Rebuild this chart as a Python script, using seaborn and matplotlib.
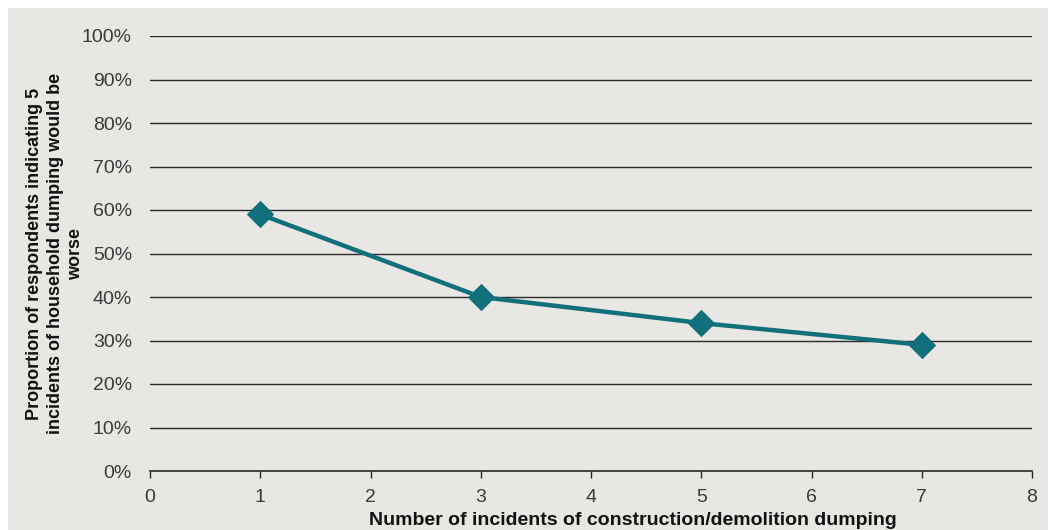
import matplotlib
matplotlib.use("Agg")
import matplotlib.pyplot as plt
from matplotlib.patches import Rectangle
from matplotlib.ticker import PercentFormatter
import seaborn as sns
import pandas as pd

# Survey results: share of respondents rating 5 household dumping incidents as worse
incidents = [1, 3, 5, 7]
share_worse = [0.59, 0.40, 0.34, 0.29]

x_ticks = [0, 1, 2, 3, 4, 5, 6, 7, 8]
y_ticks = [0.0, 0.1, 0.2, 0.3, 0.4, 0.5, 0.6, 0.7, 0.8, 0.9, 1.0]

x_label = "Number of incidents of construction/demolition dumping"
y_label = ("Proportion of respondents indicating 5\n"
           "incidents of household dumping would be\n"
           "worse")

df = pd.DataFrame({"incidents": incidents, "share": share_worse})

sns.set_theme(style="white")
plt.rcParams["font.family"] = ["Liberation Sans", "DejaVu Sans"]

bg = "#e8e7e3"
teal = "#11707b"

fig = plt.figure(figsize=(10.59, 5.30), dpi=100, facecolor="white")
fig.patches.append(Rectangle((8 / 1059, 0), 1040 / 1059, 522 / 530,
                             transform=fig.transFigure, facecolor=bg,
                             edgecolor="none", zorder=-10))

ax = fig.add_axes([150 / 1059, 1 - 471 / 530, 882 / 1059, 435 / 530])
ax.set_facecolor(bg)
ax.patch.set_alpha(0)

sns.lineplot(data=df, x="incidents", y="share", ax=ax, color=teal,
             linewidth=3.2, marker="D", markersize=13,
             markeredgecolor=teal, markerfacecolor=teal, zorder=3)

ax.set_xlim(0, 8)
ax.set_ylim(0, 1)
ax.set_xticks(x_ticks)
ax.set_yticks(y_ticks)
ax.yaxis.set_major_formatter(PercentFormatter(1.0, decimals=0))

ax.grid(axis="y", color="#2a2a2a", linewidth=1.0)
ax.grid(axis="x", visible=False)
ax.set_axisbelow(True)

for side in ["top", "right", "left"]:
    ax.spines[side].set_visible(False)
ax.spines["bottom"].set_color("#2a2a2a")
ax.spines["bottom"].set_linewidth(1.2)

ax.tick_params(axis="x", bottom=True, direction="out", length=5, width=1.0,
               color="#2a2a2a", pad=8, labelsize=14, labelcolor="#3a3a3a")
ax.tick_params(axis="y", left=False, pad=7, labelsize=14, labelcolor="#3a3a3a")

ax.set_xlabel(x_label, fontsize=14, fontweight="bold", color="#111111")
ax.xaxis.set_label_coords(0.548, -0.095)
ax.set_ylabel(y_label, fontsize=13, fontweight="bold", color="#111111",
              linespacing=1.25, ha="center")
ax.yaxis.set_label_coords(-0.075, 0.5)

fig.savefig("out.png", dpi=100, facecolor="white")
